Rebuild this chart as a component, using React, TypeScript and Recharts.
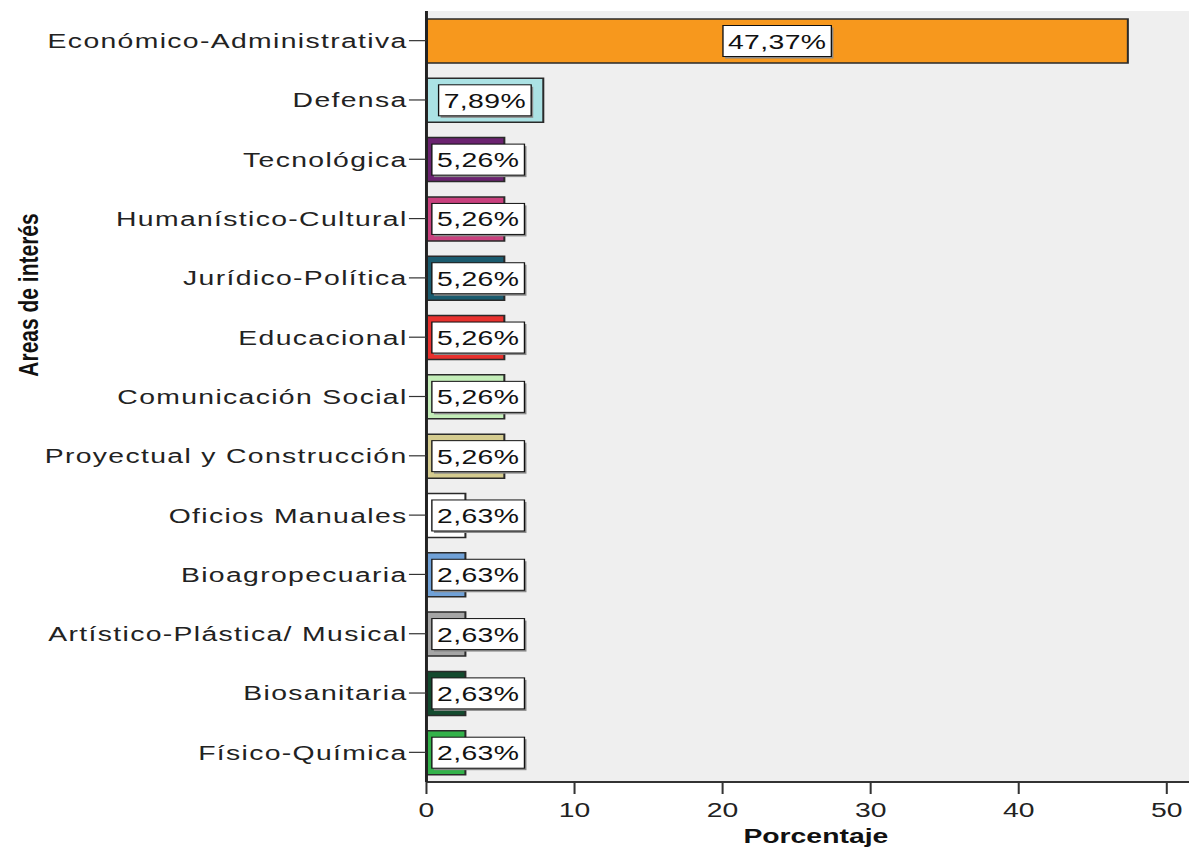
import React from "react";
import {
  BarChart,
  Bar,
  Cell,
  XAxis,
  YAxis,
  CartesianGrid,
  LabelList,
  Label,
} from "recharts";

// Áreas de interés, porcentaje de respuestas
const categories = [
  "Económico-Administrativa",
  "Defensa",
  "Tecnológica",
  "Humanístico-Cultural",
  "Jurídico-Política",
  "Educacional",
  "Comunicación Social",
  "Proyectual y Construcción",
  "Oficios Manuales",
  "Bioagropecuaria",
  "Artístico-Plástica/ Musical",
  "Biosanitaria",
  "Físico-Química",
];

const percentages = [
  47.37, 7.89, 5.26, 5.26, 5.26, 5.26, 5.26, 5.26, 2.63, 2.63, 2.63, 2.63, 2.63,
];

const barColors = [
  "#f7981d",
  "#abe2e4",
  "#6b2370",
  "#c9417e",
  "#1b5b6e",
  "#e8312e",
  "#c3edb8",
  "#d4cb8f",
  "#ffffff",
  "#70a1d7",
  "#a5a5a5",
  "#134a2e",
  "#33b24a",
];

const xTicks = [0, 10, 20, 30, 40, 50];

// el original está estirado en horizontal, así que se dibuja estrecho y se escala
const SCALE_X = 1.3496;
const W = 881;
const H = 853;
const FONT = '"Liberation Sans", Arial, sans-serif';

const data = categories.map((area, i) => ({
  area,
  pct: percentages[i],
}));

const fmt = (v: number) => v.toFixed(2).replace(".", ",") + "%";

function ValueBox(props: any) {
  const { x, y, width, height, value } = props;
  const text = fmt(Number(value));
  const digits = text.replace(/[^0-9]/g, "").length;
  const w = digits * 11.7 + 5.8 + 18.7 + 9;
  const h = 31;
  const cx = x + width / 2;
  const bx = Math.max(x + 4, cx - w / 2);
  const by = y + height / 2 - h / 2;
  return (
    <g>
      <rect x={bx + 1.5} y={by + 2} width={w} height={h} fill="#8a8a8a" />
      <rect x={bx} y={by} width={w} height={h} fill="#fff" stroke="#111" strokeWidth={1} />
      <text
        x={bx + w / 2}
        y={by + h / 2}
        dy="0.36em"
        textAnchor="middle"
        fontSize={21}
        fontFamily={FONT}
        letterSpacing={0.3}
        fill="#111"
      >
        {text}
      </text>
    </g>
  );
}

export default function App() {
  return (
    <div
      style={{
        position: "absolute",
        left: 0,
        top: 0,
        width: W,
        height: H,
        transform: `scaleX(${SCALE_X})`,
        transformOrigin: "0 0",
        background: "#fff",
      }}
    >
      <BarChart
        width={W}
        height={H}
        data={data}
        layout="vertical"
        margin={{ top: 11, right: 0, bottom: 0, left: 0 }}
        barCategoryGap={0}
      >
        <CartesianGrid fill="#efefef" horizontal={false} vertical={false} stroke="none" />
        <XAxis
          xAxisId="top"
          orientation="top"
          type="number"
          domain={[0, 51.5]}
          height={0}
          tick={false}
          tickLine={false}
          axisLine={{ stroke: "#8c8c8c", strokeWidth: 2 }}
        />
        <XAxis
          type="number"
          domain={[0, 51.5]}
          ticks={xTicks}
          height={71}
          tickSize={12}
          tickMargin={8}
          axisLine={{ stroke: "#333", strokeWidth: 2 }}
          tickLine={{ stroke: "#333", strokeWidth: 1.5 }}
          tick={{ fontSize: 21, fontFamily: FONT, fill: "#222" }}
        >
          <Label
            content={({ viewBox }: any) => (
              <text
                x={viewBox.x + viewBox.width / 2 + 6}
                y={843}
                textAnchor="middle"
                fontSize={21}
                fontWeight="bold"
                fontFamily={FONT}
                fill="#111"
              >
                Porcentaje
              </text>
            )}
          />
        </XAxis>
        <YAxis
          type="category"
          dataKey="area"
          width={316}
          interval={0}
          tickSize={13}
          tickMargin={1}
          axisLine={{ stroke: "#222", strokeWidth: 2.2 }}
          tickLine={{ stroke: "#333", strokeWidth: 1.2 }}
          tick={{ fontSize: 21, fontFamily: FONT, fill: "#222", letterSpacing: 1 }}
        >
          <Label
            content={() => (
              <text
                x={0}
                y={0}
                transform="translate(21,295) rotate(-90)"
                textAnchor="middle"
                dy="0.35em"
                fontSize={21}
                fontWeight="bold"
                fontFamily={FONT}
                fill="#111"
              >
                Areas de interés
              </text>
            )}
          />
        </YAxis>
        <Bar
          dataKey="pct"
          barSize={44}
          stroke="#2a2a2a"
          strokeWidth={1.5}
          isAnimationActive={false}
        >
          {data.map((d, i) => (
            <Cell key={d.area} fill={barColors[i]} />
          ))}
          <LabelList dataKey="pct" content={ValueBox} />
        </Bar>
      </BarChart>
    </div>
  );
}
